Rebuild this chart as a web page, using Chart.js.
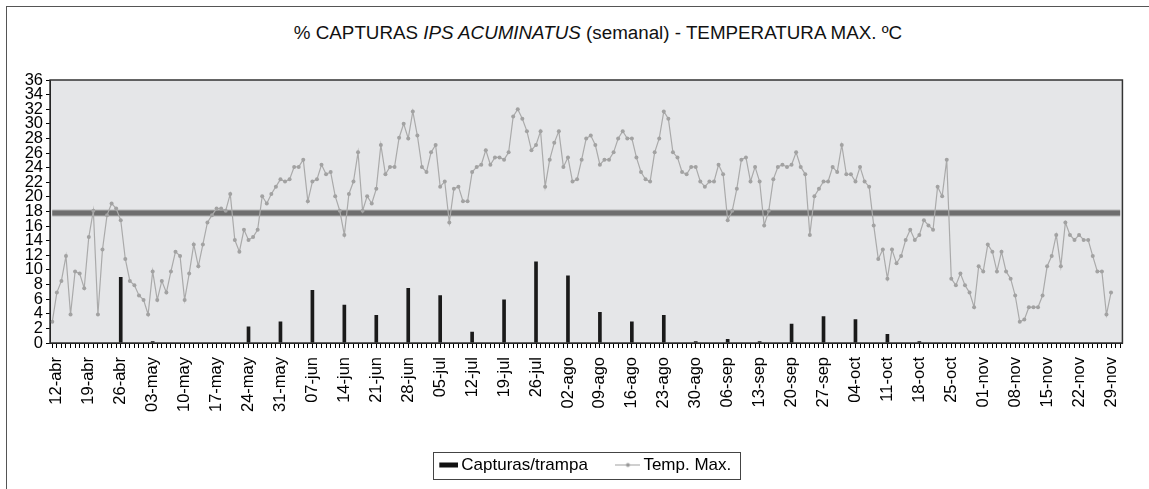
<!DOCTYPE html>
<html lang="es">
<head>
<meta charset="utf-8">
<title>% Capturas Ips acuminatus - Temperatura max.</title>
<script src="https://cdn.jsdelivr.net/npm/chart.js@4/dist/chart.umd.min.js"></script>
<style>
    html, body { margin: 0; padding: 0; background: #fff; overflow: hidden; }
    #marco { position: absolute; left: 6px; top: 6px; width: 1300px; height: 600px; border-left: 1px solid #555; border-top: 1px solid #555; }
    #titulo { position: absolute; left: 0; top: 22px; width: 1196px; text-align: center; font: 18.8px "Liberation Sans", Arial, sans-serif; color: #111; white-space: nowrap; }
    #contenedor { position: absolute; left: 0; top: 0; width: 1149px; height: 489px; }
</style>
</head>
<body>
<div id="marco"></div>
<div id="titulo">% CAPTURAS <i>IPS ACUMINATUS</i> (semanal) - TEMPERATURA MAX. ºC</div>
<div id="contenedor"><canvas id="grafica" width="1149" height="489"></canvas></div>
<script>
// etiquetas semanales del eje x (la primera cae en el segundo dia de la serie)
const semanas = ["12-abr", "19-abr", "26-abr", "03-may", "10-may", "17-may", "24-may", "31-may", "07-jun", "14-jun", "21-jun", "28-jun",
    "05-jul", "12-jul", "19-jul", "26-jul", "02-ago", "09-ago", "16-ago", "23-ago", "30-ago", "06-sep", "13-sep", "20-sep", "27-sep",
    "04-oct", "11-oct", "18-oct", "25-oct", "01-nov", "08-nov", "15-nov", "22-nov", "29-nov"];

// capturas por trampa, una por semana
const capturas = [0, 0, 9, 0.2, 0, 0, 2.2, 2.9, 7.2, 5.2, 3.8, 7.5,
    6.5, 1.5, 5.9, 11.1, 9.2, 4.2, 2.9, 3.8, 0.2, 0.5, 0.2, 2.6, 3.6,
    3.2, 1.2, 0.2, 0, 0, 0, 0, 0, 0];

// temperatura maxima diaria desde el 11-abr
const tempMax = [
    2.9, 6.9, 8.5, 11.9, 3.9, 9.8, 9.5, 7.5, 14.5, 18.1, 3.9, 12.8, 17.5, 19.1, 18.4, 16.8, 11.5, 8.5, 7.9, 6.5,
    5.9, 3.9, 9.8, 5.9, 8.5, 6.9, 9.8, 12.5, 11.9, 5.9, 9.5, 13.5, 10.5, 13.5, 16.5, 17.5, 18.4,
    18.4, 18.1, 20.4, 14.1, 12.5, 15.5, 14.1, 14.5, 15.5, 20.1, 19.1, 20.4, 21.4, 22.4, 22.1, 22.4, 24.1, 24.1, 25.1, 19.4,
    22.1, 22.4, 24.4, 23.1, 23.4, 20.1, 18.1, 14.8, 20.4, 22.1, 26.1, 18.1, 20.1, 19.1, 21.1, 27.1, 23.1, 24.1, 24.1, 28.1, 30.0, 28.0,
    31.7, 28.4, 24.1, 23.4, 26.1, 27.1, 21.4, 22.1, 16.5, 21.1, 21.4, 19.4, 19.4, 23.4, 24.1, 24.4, 26.4, 24.4, 25.4, 25.4,
    25.1, 26.1, 31.0, 32.0, 30.7, 29.0, 26.4, 27.1, 29.0, 21.4, 25.1, 27.4, 29.0, 24.1, 25.4, 22.1, 22.4, 25.1, 28.0,
    28.4, 27.1, 24.4, 25.1, 25.1, 26.1, 28.0, 29.0, 28.0, 28.0, 25.4, 23.4, 22.4, 22.1, 26.1, 28.0, 31.7, 30.7, 26.1, 25.4,
    23.4, 23.1, 24.1, 24.1, 22.1, 21.4, 22.1, 22.1, 24.4, 23.1, 16.8, 18.1, 21.1, 25.1, 25.4, 22.1, 24.1, 22.1, 16.1, 18.1,
    22.4, 24.1, 24.4, 24.1, 24.4, 26.1, 24.1, 23.1, 14.8, 20.1, 21.1, 22.1, 22.1, 24.1, 23.4, 27.1, 23.1, 23.1, 22.1, 24.1,
    22.1, 21.4, 16.1, 11.5, 12.8, 8.8, 12.8, 10.9, 11.9, 14.1, 15.5, 14.1, 14.8, 16.8, 16.1, 15.5, 21.4, 20.1, 25.1,
    8.8, 7.9, 9.5, 7.9, 6.9, 4.9, 10.5, 9.8, 13.5, 12.5, 9.8, 12.5, 9.8, 8.8, 6.5, 2.9, 3.2, 4.9, 4.9, 4.9,
    6.5, 10.5, 11.9, 14.8, 10.5, 16.5, 14.8, 14.1, 14.8, 14.1, 14.1, 11.9, 9.8, 9.8, 3.9, 6.9
];

const umbral = 17.8;
const diasExtra = 2; // dias vacios al final del eje

// categorias diarias: solo llevan texto las semanales
const categorias = [];
const barras = [];
for (let i = 0; i < tempMax.length + diasExtra; i++) {
    categorias.push("");
    barras.push(null);
}
semanas.forEach((semana, k) => {
    categorias[1 + k * 7] = semana;
    if (capturas[k] > 0) {
        barras[1 + k * 7] = capturas[k];
    }
});

// simbolos de la leyenda
function crearSimbolo(dibujar) {
    const c = document.createElement("canvas");
    c.width = 25;
    c.height = 7;
    dibujar(c.getContext("2d"));
    return c;
}
const simboloBarra = crearSimbolo((ctx) => {
    ctx.fillStyle = "#111";
    ctx.fillRect(6, 1, 19, 5);
});
const simboloTemp = crearSimbolo((ctx) => {
    ctx.strokeStyle = "#a0a0a0";
    ctx.lineWidth = 1;
    ctx.beginPath();
    ctx.moveTo(0, 3.5);
    ctx.lineTo(25, 3.5);
    ctx.stroke();
    ctx.fillStyle = "#999";
    ctx.beginPath();
    ctx.arc(12.5, 3.5, 2, 0, Math.PI * 2);
    ctx.fill();
});

const desplazamientoLeyenda = 23;

const marcoGrafica = {
    id: "marcoGrafica",
    afterLayout(chart) {
        chart.legend.left += desplazamientoLeyenda;
        chart.legend.right += desplazamientoLeyenda;
    },
    beforeDraw(chart) {
        const { ctx, chartArea: a } = chart;
        ctx.save();
        ctx.fillStyle = "#e5e6e8";
        ctx.fillRect(a.left, a.top, a.right - a.left, a.bottom - a.top);
        ctx.restore();
    },
    afterDraw(chart) {
        const { ctx, chartArea: a } = chart;
        ctx.save();
        ctx.strokeStyle = "#333";
        ctx.lineWidth = 1.5;
        ctx.strokeRect(a.left, a.top, a.right - a.left, a.bottom - a.top);

        const cajas = chart.legend.legendHitBoxes;
        if (cajas && cajas.length) {
            const ultima = cajas[cajas.length - 1];
            const izq = Math.round(cajas[0].left - 6) + 0.5;
            const der = Math.round(ultima.left + ultima.width + 9) + 0.5;
            const arriba = Math.round(cajas[0].top - 4.5) + 0.5;
            const abajo = Math.round(cajas[0].top + cajas[0].height + 5.5) + 0.5;
            ctx.lineWidth = 1;
            ctx.strokeStyle = "#444";
            ctx.strokeRect(izq, arriba, der - izq, abajo - arriba);
        }
        ctx.restore();
    }
};

Chart.defaults.font.family = '"Liberation Sans", Arial, sans-serif';
Chart.defaults.color = "#000";

const ctx = document.getElementById("grafica");
const grafica = new Chart(ctx, {
    type: "bar",
    data: {
        labels: categorias,
        datasets: [
            {
                type: "bar",
                label: "Capturas/trampa",
                data: barras,
                backgroundColor: "#1a1a1a",
                barThickness: 3,
                order: 2
            },
            {
                type: "line",
                label: "Temp. Max.",
                data: tempMax,
                borderColor: "#aaaaaa",
                borderWidth: 1.2,
                pointRadius: 2,
                pointBackgroundColor: "#a2a2a2",
                pointBorderWidth: 0,
                tension: 0,
                order: 1
            },
            {
                type: "line",
                label: "umbral",
                data: categorias.map(() => umbral),
                borderColor: "#6e6e6e",
                borderWidth: 5,
                pointRadius: 0,
                order: 3
            },
            {
                type: "line",
                label: "umbral borde",
                data: categorias.map(() => umbral),
                borderColor: "#b4b4b4",
                borderWidth: 7,
                pointRadius: 0,
                order: 4
            }
        ]
    },
    options: {
        responsive: false,
        animation: false,
        layout: {
            padding: { left: 0, right: 25, top: 80, bottom: 5.5 }
        },
        plugins: {
            tooltip: { enabled: false },
            legend: {
                position: "bottom",
                labels: {
                    usePointStyle: true,
                    pointStyleWidth: 14,
                    padding: 33,
                    font: { size: 17 },
                    color: "#000",
                    filter: (item) => item.datasetIndex < 2,
                    sort: (a, b) => a.datasetIndex - b.datasetIndex,
                    generateLabels(chart) {
                        const items = Chart.defaults.plugins.legend.labels.generateLabels(chart);
                        items.forEach((item) => {
                            item.pointStyle = item.datasetIndex === 0 ? simboloBarra : simboloTemp;
                        });
                        return items;
                    }
                }
            }
        },
        scales: {
            x: {
                offset: true,
                grid: {
                    offset: false,
                    drawOnChartArea: false,
                    drawTicks: true,
                    tickLength: 5,
                    lineWidth: 1,
                    color: "#000"
                },
                border: { color: "#000" },
                ticks: {
                    autoSkip: false,
                    maxRotation: 90,
                    minRotation: 90,
                    padding: 9,
                    font: { size: 16.5 },
                    color: "#000"
                },
                afterFit(scale) {
                    scale.height = 80.5;
                }
            },
            y: {
                min: 0,
                max: 36,
                ticks: {
                    stepSize: 2,
                    autoSkip: false,
                    padding: 3,
                    font: { size: 16.5 },
                    color: "#000"
                },
                grid: {
                    drawOnChartArea: false,
                    tickLength: 4,
                    color: "#000"
                },
                border: { color: "#000" },
                afterFit(scale) {
                    scale.width = 50;
                }
            }
        }
    },
    plugins: [marcoGrafica]
});
</script>
</body>
</html>
